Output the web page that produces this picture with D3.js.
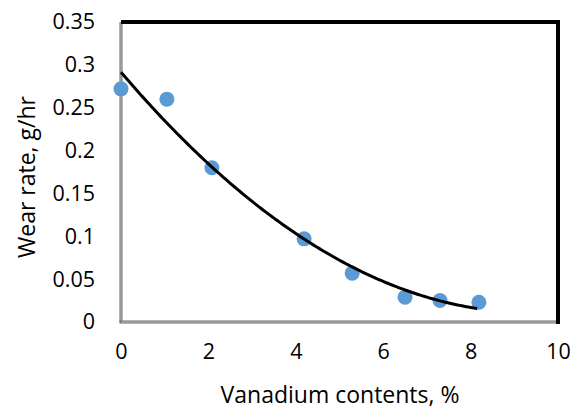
<!DOCTYPE html>
<html>
<head>
<meta charset="utf-8">
<script src="https://cdn.jsdelivr.net/npm/d3@7"></script>
<style>
  body { margin: 0; background: #fff; }
  text { font-family: "Open Sans", sans-serif; fill: #000; }
</style>
</head>
<body>
<div id="chart"></div>
<script>
// chart data
const vanadium = [0, 1.05, 2.08, 4.19, 5.29, 6.5, 7.3, 8.19]
const wearRate = [0.272, 0.260, 0.180, 0.097, 0.057, 0.029, 0.025, 0.023]
const xTicks = [0, 2, 4, 6, 8, 10]
const yTicks = [0, 0.05, 0.1, 0.15, 0.2, 0.25, 0.3, 0.35]
const xTitle = "Vanadium contents, %"
const yTitle = "Wear rate, g/hr"

const width = 584
const height = 410
const plotLeft = 121, plotRight = 558, plotTop = 22, plotBottom = 322

const svg = d3.select('#chart')
  .append('svg')
  .attr('width', width)
  .attr('height', height)

const xScale = d3.scaleLinear().domain([0, 10]).range([plotLeft, plotRight])
const yScale = d3.scaleLinear().domain([0, 0.35]).range([plotBottom, plotTop])

// polynomial (order 2) trendline, least squares like excel does it
const fitQuad = function (xs, ys) {
  let n = xs.length, sx = 0, sx2 = 0, sx3 = 0, sx4 = 0, sy = 0, sxy = 0, sx2y = 0
  xs.forEach((x, i) => {
    const y = ys[i]
    sx += x; sx2 += x * x; sx3 += x * x * x; sx4 += x * x * x * x
    sy += y; sxy += x * y; sx2y += x * x * y
  })
  // solve 3x3 normal equations (cramer)
  const det3 = (m) => m[0][0] * (m[1][1] * m[2][2] - m[1][2] * m[2][1])
    - m[0][1] * (m[1][0] * m[2][2] - m[1][2] * m[2][0])
    + m[0][2] * (m[1][0] * m[2][1] - m[1][1] * m[2][0])
  const A = [[n, sx, sx2], [sx, sx2, sx3], [sx2, sx3, sx4]]
  const B = [sy, sxy, sx2y]
  const D = det3(A)
  const coef = [0, 1, 2].map(k => det3(A.map((row, r) => row.map((v, c) => c === k ? B[r] : v))) / D)
  return coef // c, b, a
}
const coef = fitQuad(vanadium, wearRate)
const trendX = d3.range(0, 8.19 + 1e-9, 0.05)
const trend = trendX.map(x => [x, coef[0] + coef[1] * x + coef[2] * x * x])

// axes (no tick marks, only labels)
const xAxis = d3.axisBottom(xScale).tickValues(xTicks).tickSize(0).tickPadding(22).tickFormat(d3.format("d"))
const yAxis = d3.axisLeft(yScale).tickValues(yTicks).tickSize(0).tickPadding(26).tickFormat(d => d === 0 ? "0" : String(+d.toFixed(2)))

const gx = svg.append('g').attr('transform', 'translate(0,' + plotBottom + ')').call(xAxis)
const gy = svg.append('g').attr('transform', 'translate(' + plotLeft + ',0)').call(yAxis)
gx.select('.domain').remove()
gy.select('.domain').remove()
svg.selectAll('.tick text').style('font-size', '21.5px').style('font-family', '"Open Sans", sans-serif').attr('fill', '#000')

// plot border: gray left/bottom, thick black top/right
svg.append('line').attr('x1', plotLeft).attr('x2', plotLeft).attr('y1', plotTop).attr('y2', plotBottom)
  .attr('stroke', '#6b6b6b').attr('stroke-width', 3)
svg.append('line').attr('x1', plotLeft).attr('x2', plotLeft).attr('y1', plotTop).attr('y2', plotBottom)
  .attr('stroke', '#c8c8c8').attr('stroke-width', 1)
svg.append('line').attr('x1', plotLeft - 1.5).attr('x2', plotRight).attr('y1', plotBottom).attr('y2', plotBottom)
  .attr('stroke', '#6b6b6b').attr('stroke-width', 3)
svg.append('line').attr('x1', plotLeft).attr('x2', plotRight).attr('y1', plotBottom).attr('y2', plotBottom)
  .attr('stroke', '#c8c8c8').attr('stroke-width', 1)
svg.append('line').attr('x1', plotLeft).attr('x2', plotRight + 2).attr('y1', plotTop).attr('y2', plotTop)
  .attr('stroke', '#000').attr('stroke-width', 4)
svg.append('line').attr('x1', plotRight).attr('x2', plotRight).attr('y1', plotTop).attr('y2', plotBottom + 2)
  .attr('stroke', '#000').attr('stroke-width', 4)

// points
svg.selectAll('circle')
  .data(vanadium)
  .enter()
  .append('circle')
  .attr('cx', d => xScale(d))
  .attr('cy', (d, i) => yScale(wearRate[i]))
  .attr('r', 7.5)
  .attr('fill', '#5b9bd5')

// trendline
svg.append('path')
  .datum(trend)
  .attr('d', d3.line().x(d => xScale(d[0])).y(d => yScale(d[1])))
  .attr('fill', 'none')
  .attr('stroke', '#000')
  .attr('stroke-width', 3)

// titles
svg.append('text')
  .attr('x', 340)
  .attr('y', 403)
  .attr('text-anchor', 'middle')
  .style('font-size', '23px')
  .text(xTitle)

svg.append('text')
  .attr('transform', 'translate(35,177) rotate(-90)')
  .attr('text-anchor', 'middle')
  .style('font-size', '23px')
  .text(yTitle)
</script>
</body>
</html>
